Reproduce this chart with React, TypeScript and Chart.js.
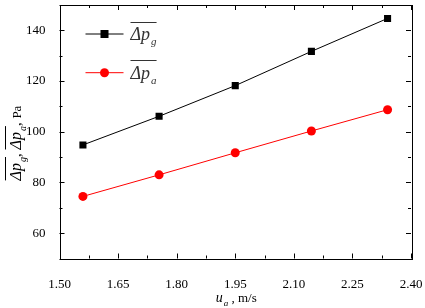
import React, { useEffect, useRef } from 'react';
import { Chart, registerables } from 'chart.js';
Chart.register(...registerables);

const velocities = [1.56, 1.755, 1.95, 2.145, 2.34];
const dpGas = [94.8, 106.1, 118.2, 131.7, 144.7];
const dpAir = [74.5, 83.0, 91.7, 100.3, 108.7];
const seriesSubs = ['g', 'a'];
const seriesColors = ['#000000', '#ff0000'];
const xMin = 1.5, xMax = 2.4, xStep = 0.075;
const yMin = 50, yMax = 150, yStep = 10;

const SERIF = "'Liberation Serif', 'Times New Roman', serif";

function drawDeltaP(ctx: CanvasRenderingContext2D, x: number, y: number, sub: string, size: number, draw = true) {
  ctx.font = `italic ${size}px ${SERIF}`;
  const w1 = ctx.measureText('Δp').width;
  const subSize = Math.round(size * 0.62);
  ctx.font = `italic ${subSize}px ${SERIF}`;
  const w2 = ctx.measureText(sub).width;
  const total = w1 + 1 + w2;
  if (draw) {
    ctx.textAlign = 'left';
    ctx.textBaseline = 'alphabetic';
    ctx.font = `italic ${size}px ${SERIF}`;
    ctx.fillText('Δp', x, y);
    ctx.font = `italic ${subSize}px ${SERIF}`;
    ctx.fillText(sub, x + w1 + 1, y + size * 0.3);
    ctx.beginPath();
    ctx.lineWidth = 1;
    const oy = Math.round(y - size * 1.02) + 0.5;
    ctx.moveTo(x, oy);
    ctx.lineTo(x + total, oy);
    ctx.stroke();
  }
  return total;
}

const decorPlugin = {
  id: 'decor',
  afterDraw(chart: any) {
    const ctx: CanvasRenderingContext2D = chart.ctx;
    const { left, right, top, bottom } = chart.chartArea;
    ctx.save();
    ctx.strokeStyle = '#000';
    ctx.fillStyle = '#000';
    ctx.lineWidth = 1;
    ctx.strokeRect(Math.round(left) + 0.5, Math.round(top) + 0.5, Math.round(right - left), Math.round(bottom - top));
    const xs = chart.scales.x;
    xs.ticks.forEach((t: any, i: number) => {
      const px = Math.round(xs.getPixelForValue(t.value)) + 0.5;
      const len = i % 2 === 0 ? 5 : 3;
      ctx.beginPath();
      ctx.moveTo(px, bottom); ctx.lineTo(px, bottom - len);
      ctx.moveTo(px, top); ctx.lineTo(px, top + len);
      ctx.stroke();
    });
    const ys = chart.scales.y;
    ys.ticks.forEach((t: any) => {
      const py = Math.round(ys.getPixelForValue(t.value)) + 0.5;
      const len = Math.round(t.value) % 20 === 0 ? 5 : 3;
      ctx.beginPath();
      ctx.moveTo(left, py); ctx.lineTo(left + len, py);
      ctx.moveTo(right, py); ctx.lineTo(right - len, py);
      ctx.stroke();
    });
    chart.data.datasets.forEach((ds: any, i: number) => {
      const ly = 34 + i * 38.7;
      const lx = left + 26;
      ctx.strokeStyle = ds.borderColor;
      ctx.fillStyle = ds.borderColor;
      ctx.beginPath();
      ctx.moveTo(lx, ly); ctx.lineTo(lx + 38, ly);
      ctx.stroke();
      const mx = lx + 19;
      if (ds.pointStyle === 'rect') {
        ctx.fillRect(mx - 4, ly - 4, 8, 8);
      } else {
        ctx.beginPath(); ctx.arc(mx, ly, 4.5, 0, Math.PI * 2); ctx.fill();
      }
      ctx.strokeStyle = '#333';
      ctx.fillStyle = '#333';
      drawDeltaP(ctx, lx + 45, ly + 6, seriesSubs[i], 18);
    });
    ctx.strokeStyle = '#000';
    ctx.fillStyle = '#000';
    {
      ctx.font = `italic 14px ${SERIF}`;
      const wu = ctx.measureText('u').width;
      ctx.font = `italic 9px ${SERIF}`;
      const wa = ctx.measureText('a').width;
      ctx.font = `13px ${SERIF}`;
      const wr = ctx.measureText(' , m/s').width;
      const total = wu + wa + 1 + wr;
      let x = (left + right) / 2 + 1 - total / 2;
      const y = 302;
      ctx.textAlign = 'left';
      ctx.textBaseline = 'alphabetic';
      ctx.font = `italic 14px ${SERIF}`;
      ctx.fillText('u', x, y); x += wu + 1;
      ctx.font = `italic 9px ${SERIF}`;
      ctx.fillText('a', x, y + 4); x += wa;
      ctx.font = `13px ${SERIF}`;
      ctx.fillText(' , m/s', x, y);
    }
    {
      ctx.save();
      ctx.translate(21, 143);
      ctx.rotate(-Math.PI / 2);
      ctx.font = `15px ${SERIF}`;
      const wc = ctx.measureText(', ').width;
      ctx.font = `13px ${SERIF}`;
      const wp = ctx.measureText('Pa').width;
      const w1 = drawDeltaP(ctx, 0, 0, 'g', 16, false);
      const w2 = drawDeltaP(ctx, 0, 0, 'a', 16, false);
      const total = w1 + wc + w2 + wc + wp;
      let x = -total / 2;
      drawDeltaP(ctx, x, 0, 'g', 16); x += w1;
      ctx.font = `15px ${SERIF}`;
      ctx.fillText(', ', x, 0); x += wc;
      drawDeltaP(ctx, x, 0, 'a', 16); x += w2;
      ctx.font = `15px ${SERIF}`;
      ctx.fillText(', ', x, 0); x += wc;
      ctx.font = `13px ${SERIF}`;
      ctx.fillText('Pa', x, 0);
      ctx.restore();
    }
    ctx.restore();
  },
};

export default function App() {
  const ref = useRef<HTMLCanvasElement>(null);
  useEffect(() => {
    document.body.style.margin = '0';
    const mk = (vals: number[]) => velocities.map((v, i) => ({ x: v, y: vals[i] }));
    const chart = new Chart(ref.current!, {
      type: 'line',
      data: {
        datasets: [
          {
            data: mk(dpGas),
            borderColor: seriesColors[0],
            backgroundColor: seriesColors[0],
            borderWidth: 1,
            pointStyle: 'rect',
            pointRadius: 5,
            pointBorderWidth: 0,
          },
          {
            data: mk(dpAir),
            borderColor: seriesColors[1],
            backgroundColor: seriesColors[1],
            borderWidth: 1,
            pointStyle: 'circle',
            pointRadius: 4.5,
            pointBorderWidth: 0,
          },
        ],
      },
      options: {
        animation: false,
        responsive: false,
        devicePixelRatio: 1,
        layout: { padding: { left: 0, right: 14, top: 0, bottom: 0 } },
        plugins: { legend: { display: false }, tooltip: { enabled: false } },
        scales: {
          x: {
            type: 'linear',
            min: xMin,
            max: xMax,
            grid: { display: false },
            border: { display: false },
            afterFit: (s: any) => { s.height = 49.5; s.paddingLeft = 0; s.paddingRight = 0; s.paddingTop = 0; s.paddingBottom = 0; },
            ticks: {
              stepSize: xStep,
              autoSkip: false,
              maxRotation: 0,
              padding: 10,
              color: '#000',
              font: { family: SERIF, size: 13 },
              callback: (v: any, i: number) => (i % 2 === 0 ? Number(v).toFixed(2) : ''),
            },
          },
          y: {
            type: 'linear',
            min: yMin,
            max: yMax,
            grid: { display: false },
            border: { display: false },
            afterFit: (s: any) => { s.width = 59.5; s.paddingLeft = 0; s.paddingRight = 0; s.paddingTop = 0; s.paddingBottom = 0; },
            ticks: {
              stepSize: yStep,
              autoSkip: false,
              padding: 6,
              color: '#000',
              font: { family: SERIF, size: 13 },
              callback: (v: any) => {
                const n = Math.round(Number(v));
                return n % 20 === 0 && n >= 60 && n <= 140 ? String(n) : '';
              },
            },
          },
        },
      },
      plugins: [decorPlugin],
    });
    return () => chart.destroy();
  }, []);
  return <canvas ref={ref} width={425} height={308} style={{ display: 'block' }} />;
}
